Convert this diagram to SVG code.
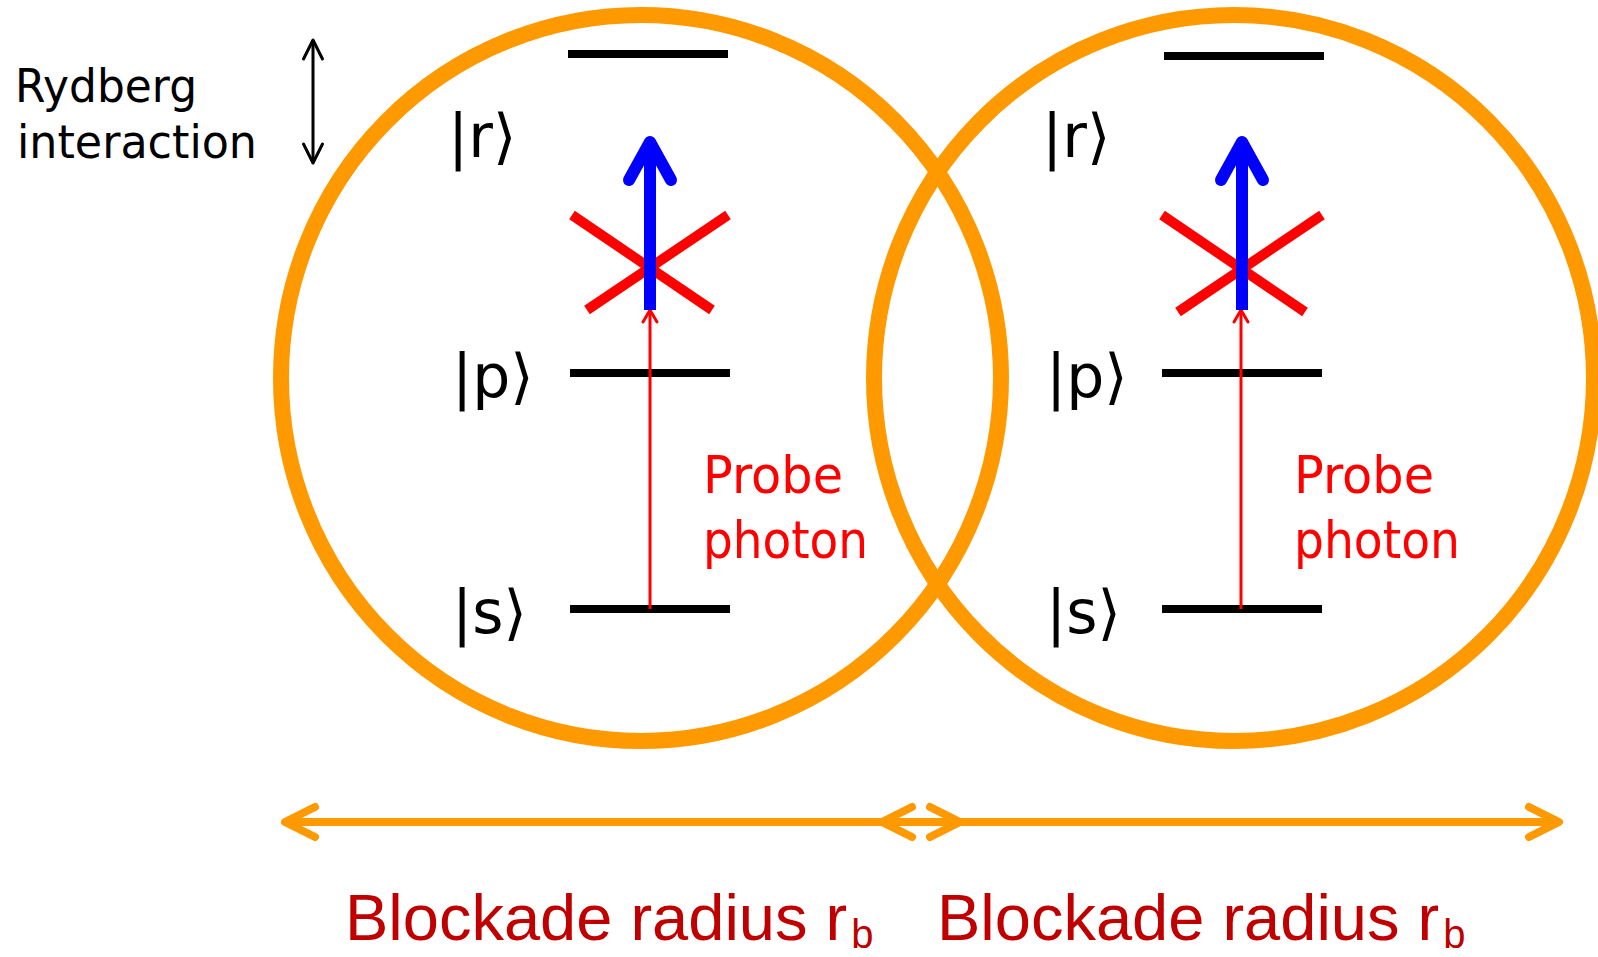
<svg xmlns="http://www.w3.org/2000/svg" width="1598" height="957" viewBox="0 0 1598 957">
<style>
  .circ { fill: none; stroke: #FF9900; stroke-width: 16; }
  .lvl { stroke: #000; stroke-width: 8; }
  .cross { stroke: #FF0000; stroke-width: 10; }
  .blue { stroke: #0000FF; stroke-width: 12; fill: none; }
  .probe { stroke: #FF0000; stroke-width: 3; fill: none; }
  .orange { stroke: #FF9900; stroke-width: 8; fill: none; }
  .black { stroke: #000; stroke-width: 3; fill: none; }
  .ket { font-family: "DejaVu Sans", "Liberation Sans", sans-serif; font-size: 60px; fill: #000; }
  .plab { font-family: "DejaVu Sans", "Liberation Sans", sans-serif; font-size: 52px; fill: #FF0000; }
  .ryd { font-family: "DejaVu Sans", "Liberation Sans", sans-serif; font-size: 46px; fill: #000; }
  .blk { font-family: "Liberation Sans", Arial, sans-serif; font-size: 65px; fill: #C00000; }
  .sub { font-size: 40px; }
</style>
<defs>
  <marker id="mO" markerUnits="userSpaceOnUse" markerWidth="10" markerHeight="10" refX="0" refY="0" orient="auto-start-reverse" overflow="visible">
    <path d="M-30,-15 L0,0 L-30,15" fill="none" stroke="#FF9900" stroke-width="8" stroke-linecap="round" stroke-linejoin="round"/>
  </marker>
  <marker id="mB" markerUnits="userSpaceOnUse" markerWidth="10" markerHeight="10" refX="0" refY="0" orient="auto-start-reverse" overflow="visible">
    <path d="M-38,-21 L0,0 L-38,21" fill="none" stroke="#0000FF" stroke-width="12" stroke-linecap="round" stroke-linejoin="round"/>
  </marker>
  <marker id="mR" markerUnits="userSpaceOnUse" markerWidth="10" markerHeight="10" refX="0" refY="0" orient="auto-start-reverse" overflow="visible">
    <path d="M-12,-7 L0,0 L-12,7" fill="none" stroke="#FF0000" stroke-width="3" stroke-linecap="round" stroke-linejoin="round"/>
  </marker>
  <marker id="mK" markerUnits="userSpaceOnUse" markerWidth="10" markerHeight="10" refX="0" refY="0" orient="auto-start-reverse" overflow="visible">
    <path d="M-19,-9.5 L0,0 L-19,9.5" fill="none" stroke="#000" stroke-width="3" stroke-linecap="round" stroke-linejoin="round"/>
  </marker>
</defs>

<g id="blockade-left">
  <ellipse class="circ" cx="641" cy="378" rx="360" ry="363"/>
</g>
<g id="blockade-right">
  <ellipse class="circ" cx="1234" cy="378" rx="360" ry="363"/>
</g>

<g id="atom-left">
  <line class="lvl" x1="568" y1="54" x2="728" y2="54"/>
  <line class="lvl" x1="570" y1="373" x2="730" y2="373"/>
  <line class="lvl" x1="570" y1="609" x2="730" y2="609"/>
  <text class="ket" x="448" y="157">|r⟩</text>
  <text class="ket" x="452" y="397">|p⟩</text>
  <text class="ket" x="452" y="633">|s⟩</text>
  <line class="cross" x1="572" y1="215" x2="712" y2="310"/>
  <line class="cross" x1="728" y1="215" x2="587" y2="310"/>
  <text class="plab" x="703" y="493" textLength="140" lengthAdjust="spacingAndGlyphs">Probe</text>
  <text class="plab" x="703" y="558" textLength="165" lengthAdjust="spacingAndGlyphs">photon</text>
</g>

<g id="atom-right">
  <line class="lvl" x1="1164" y1="56" x2="1324" y2="56"/>
  <line class="lvl" x1="1162" y1="373" x2="1322" y2="373"/>
  <line class="lvl" x1="1162" y1="609" x2="1322" y2="609"/>
  <text class="ket" x="1042" y="157">|r⟩</text>
  <text class="ket" x="1046" y="397">|p⟩</text>
  <text class="ket" x="1046" y="633">|s⟩</text>
  <line class="cross" x1="1162" y1="215" x2="1305" y2="312"/>
  <line class="cross" x1="1322" y1="215" x2="1178" y2="312"/>
  <text class="plab" x="1294" y="493" textLength="140" lengthAdjust="spacingAndGlyphs">Probe</text>
  <text class="plab" x="1294" y="558" textLength="166" lengthAdjust="spacingAndGlyphs">photon</text>
</g>

<g id="label-rydberg">
  <text class="ryd" x="15" y="102" textLength="182" lengthAdjust="spacingAndGlyphs">Rydberg</text>
  <text class="ryd" x="17" y="158" textLength="240" lengthAdjust="spacingAndGlyphs">interaction</text>
</g>

<g id="label-blockade">
  <text class="blk" x="345" y="940">Blockade radius r<tspan class="sub" dx="4" dy="8">b</tspan></text>
  <text class="blk" x="937" y="940">Blockade radius r<tspan class="sub" dx="4" dy="8">b</tspan></text>
</g>

<g id="connectors">
  <line class="probe" x1="650" y1="609" x2="650" y2="310" marker-end="url(#mR)"/>
  <line class="probe" x1="1241" y1="609" x2="1241" y2="310" marker-end="url(#mR)"/>
  <line class="blue" x1="650" y1="310" x2="650" y2="142" marker-end="url(#mB)"/>
  <line class="blue" x1="1242" y1="310" x2="1242" y2="142" marker-end="url(#mB)"/>
  <line class="black" x1="313" y1="40" x2="313" y2="163" marker-start="url(#mK)" marker-end="url(#mK)"/>
  <line class="orange" x1="285" y1="822" x2="960" y2="822" marker-start="url(#mO)" marker-end="url(#mO)"/>
  <line class="orange" x1="882" y1="822" x2="1559" y2="822" marker-start="url(#mO)" marker-end="url(#mO)"/>
</g>
</svg>
